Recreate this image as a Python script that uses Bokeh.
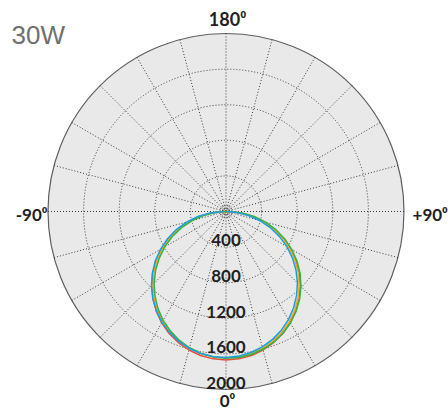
import numpy as np
from bokeh.plotting import figure
from bokeh.models import Range1d
from bokeh.core.properties import value
from bokeh.embed import file_html
from bokeh.resources import INLINE

# ---------------- data ----------------
title = "30W"
angles = list(range(-90, 95, 5))  # degrees, 0 = straight down, + = right
red = [10, 157, 300, 440, 575, 706, 834, 957, 1072, 1179, 1278, 1366, 1445, 1512, 1567, 1611, 1643, 1662,
       1668,
       1662, 1643, 1611, 1567, 1512, 1445, 1366, 1278, 1179, 1072, 957, 834, 706, 575, 440, 300, 157, 10]
orange = [0, 143, 286, 426, 563, 695, 823, 944, 1057, 1163, 1260, 1348, 1425, 1491, 1546, 1589, 1620, 1639,
          1645,
          1639, 1620, 1589, 1546, 1491, 1425, 1348, 1260, 1163, 1057, 944, 823, 695, 563, 426, 286, 143, 0]
green = [0, 109, 251, 393, 531, 665, 795, 917, 1034, 1142, 1241, 1332, 1412, 1480, 1539, 1585, 1619, 1641,
         1650,
         1647, 1631, 1603, 1563, 1510, 1447, 1372, 1287, 1192, 1088, 975, 855, 729, 597, 461, 321, 179, 35]
blue = [35, 178, 320, 458, 594, 725, 850, 970, 1081, 1185, 1279, 1363, 1438, 1501, 1553, 1593, 1621, 1637,
        1640,
        1631, 1609, 1575, 1529, 1471, 1403, 1323, 1233, 1135, 1027, 912, 790, 661, 528, 390, 250, 108, 0]
series_colors = ["#e94e36", "#f6a623", "#34b34a", "#1c9fe0"]

ring_values = [400, 800, 1200, 1600]
ring_labels = ["400", "800", "1200", "1600", "2000"]
ring_label_values = [400, 800, 1200, 1600, 2000]
center_rings = [30, 65]
r_max = 2000
spoke_angles = list(range(0, 360, 15))

# ---------------- geometry ----------------
W, H = 448, 411
k = 2000 / 178.0           # data units per pixel
cx, cy = 225.5, 211.0      # circle centre in figure pixels (from top-left)

def polar(r, a):
    r = np.asarray(r, dtype=float)
    a = np.radians(np.asarray(a, dtype=float))
    return r * np.sin(a), -r * np.cos(a)

p = figure(width=W, height=H, output_backend="svg", toolbar_location=None,
           x_range=Range1d(-cx * k, (W - cx) * k), y_range=Range1d(-(H - cy) * k, cy * k),
           x_axis_type=None, y_axis_type=None, min_border=0)
p.grid.visible = False
p.outline_line_color = None
p.background_fill_color = "white"
p.border_fill_color = "white"

# disc
p.circle(x=[0], y=[0], radius=[r_max], fill_color="#e9e9ea", line_color="#5f5f5f", line_width=1.2)
# spokes
sx, sy = polar([r_max] * len(spoke_angles), spoke_angles)
p.segment(x0=[0] * len(spoke_angles), y0=[0] * len(spoke_angles), x1=sx, y1=sy,
          line_color="#3a3a3a", line_width=1, line_dash="1 2")
# rings
p.circle(x=[0] * len(ring_values), y=[0] * len(ring_values), radius=ring_values,
         fill_color=None, line_color="#3a3a3a", line_width=1, line_dash="1 2")
p.circle(x=[0] * len(center_rings), y=[0] * len(center_rings), radius=center_rings,
         fill_color=None, line_color="#3a3a3a", line_width=0.8, line_dash="1 1")

# curves
for vals, col in zip([red, orange, green, blue], series_colors):
    x, y = polar(vals, angles)
    p.line(x, y, line_color=col, line_width=1.5)

# ring labels
lx = [0] * len(ring_labels)
ly = [-(v - 75) for v in ring_label_values]
p.text(x=lx, y=ly, text=ring_labels, text_font=value("Lato"), text_font_style="bold",
       text_font_size="17px", text_color="#231f20", text_align="center", text_baseline="middle")

# angle labels
lab_font = value("Lato")
p.text(x=[17], y=[2163], text=["180⁰"], text_font=lab_font, text_font_style="bold",
       text_font_size="18px", text_color="#231f20", text_align="center", text_baseline="middle")
p.text(x=[-2006], y=[-34], text=["-90⁰"], text_font=lab_font, text_font_style="bold",
       text_font_size="17px", text_color="#231f20", text_align="right", text_baseline="middle")
p.text(x=[2096], y=[-34], text=["+90⁰"], text_font=lab_font, text_font_style="bold",
       text_font_size="17px", text_color="#231f20", text_align="left", text_baseline="middle")
p.text(x=[17], y=[-2124], text=["0⁰"], text_font=lab_font, text_font_style="bold",
       text_font_size="17px", text_color="#231f20", text_align="center", text_baseline="middle")

# title
p.text(x=[-2410], y=[1978], text=[title], text_font=value("Liberation Sans"),
       text_font_size="26px", text_color="#707070", text_align="left", text_baseline="middle")

open("out.html", "w").write(file_html(p, INLINE))
